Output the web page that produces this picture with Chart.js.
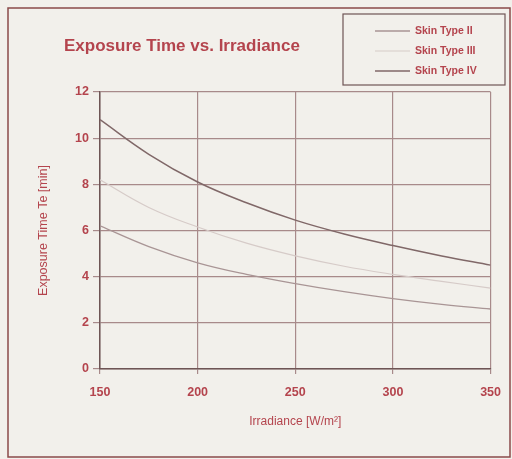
<!DOCTYPE html>
<html>
<head>
<meta charset="utf-8">
<script src="https://cdn.jsdelivr.net/npm/chart.js@4.4.1/dist/chart.umd.min.js"></script>
<style>
  body { margin: 0; background: #f2f0eb; }
  #wrap { width: 512px; height: 459px; }
</style>
</head>
<body>
<div id="wrap"><canvas id="chart" width="512" height="459"></canvas></div>
<script>
let irradiance = [150, 175, 200, 225, 250, 275, 300, 325, 350];
let skinTypeII = [6.2, 5.3, 4.6, 4.1, 3.7, 3.35, 3.05, 2.8, 2.6];
let skinTypeIII = [8.2, 7.0, 6.15, 5.45, 4.9, 4.45, 4.1, 3.8, 3.5];
let skinTypeIV = [10.8, 9.3, 8.1, 7.2, 6.45, 5.85, 5.35, 4.9, 4.5];
let xTicks = [150, 200, 250, 300, 350];
let yTicks = [0, 2, 4, 6, 8, 10, 12];

let textColor = '#b4444d';
let frameColor = '#8a4a4a';

function toPoints(values) {
    return values.map((v, i) => ({ x: irradiance[i], y: v }));
}

// background, outer frame, title and legend box
const decoration = {
    id: 'decoration',
    beforeDraw(chart) {
        let ctx = chart.ctx;
        ctx.save();
        ctx.fillStyle = '#f2f0eb';
        ctx.fillRect(0, 0, chart.width, chart.height);
        ctx.strokeStyle = frameColor;
        ctx.lineWidth = 1.5;
        ctx.strokeRect(8, 8, 502, 449);
        ctx.restore();
    },
    afterDraw(chart) {
        let ctx = chart.ctx;
        ctx.save();
        ctx.fillStyle = textColor;
        ctx.font = 'bold 17px "Liberation Sans", Arial, sans-serif';
        ctx.textBaseline = 'middle';
        ctx.fillText('Exposure Time vs. Irradiance', 64, 46);

        ctx.strokeStyle = '#6e5555';
        ctx.lineWidth = 1.2;
        ctx.strokeRect(343, 14, 162, 71);
        ctx.font = 'bold 10.5px "Liberation Sans", Arial, sans-serif';
        chart.data.datasets.forEach((ds, i) => {
            let y = 31 + i * 20;
            ctx.strokeStyle = ds.borderColor;
            ctx.lineWidth = ds.borderWidth;
            ctx.beginPath();
            ctx.moveTo(375, y);
            ctx.lineTo(410, y);
            ctx.stroke();
            ctx.fillStyle = textColor;
            ctx.fillText(ds.label, 415, y);
        });
        ctx.restore();
    }
};

new Chart(document.getElementById('chart'), {
    type: 'line',
    data: {
        datasets: [
            { label: 'Skin Type II', data: toPoints(skinTypeII), borderColor: '#a99595', borderWidth: 1.3 },
            { label: 'Skin Type III', data: toPoints(skinTypeIII), borderColor: '#d6cbc8', borderWidth: 1.2 },
            { label: 'Skin Type IV', data: toPoints(skinTypeIV), borderColor: '#806868', borderWidth: 1.5 }
        ]
    },
    options: {
        responsive: false,
        animation: false,
        elements: { point: { radius: 0 }, line: { tension: 0.4 } },
        layout: { padding: { top: 92, right: 20, left: 36, bottom: 30 } },
        plugins: { legend: { display: false }, tooltip: { enabled: false } },
        scales: {
            x: {
                type: 'linear',
                min: 150,
                max: 350,
                afterBuildTicks: (scale) => { scale.ticks = xTicks.map(v => ({ value: v })); },
                afterFit: (scale) => { scale.height = 60; },
                border: { color: '#6e5555', width: 1.5 },
                grid: { color: '#a88a8a', lineWidth: 1.2, tickLength: 5 },
                ticks: { color: textColor, font: { family: 'Liberation Sans', size: 12.5, weight: 'bold' }, padding: 11 },
                title: { display: true, text: 'Irradiance [W/m²]', color: textColor, font: { family: 'Liberation Sans', size: 12 }, padding: { top: 6, bottom: 0 } }
            },
            y: {
                min: 0,
                max: 12,
                afterBuildTicks: (scale) => { scale.ticks = yTicks.map(v => ({ value: v })); },
                afterFit: (scale) => { scale.width = 64; },
                border: { color: '#6e5555', width: 1.5 },
                grid: { color: '#a88a8a', lineWidth: 1.2, tickLength: 7 },
                ticks: { color: textColor, font: { family: 'Liberation Sans', size: 12.5, weight: 'bold' }, padding: 4 },
                title: { display: true, text: 'Exposure Time Te [min]', color: textColor, font: { family: 'Liberation Sans', size: 12.5 }, padding: { top: 0, bottom: 0 } }
            }
        }
    },
    plugins: [decoration]
});
</script>
</body>
</html>
